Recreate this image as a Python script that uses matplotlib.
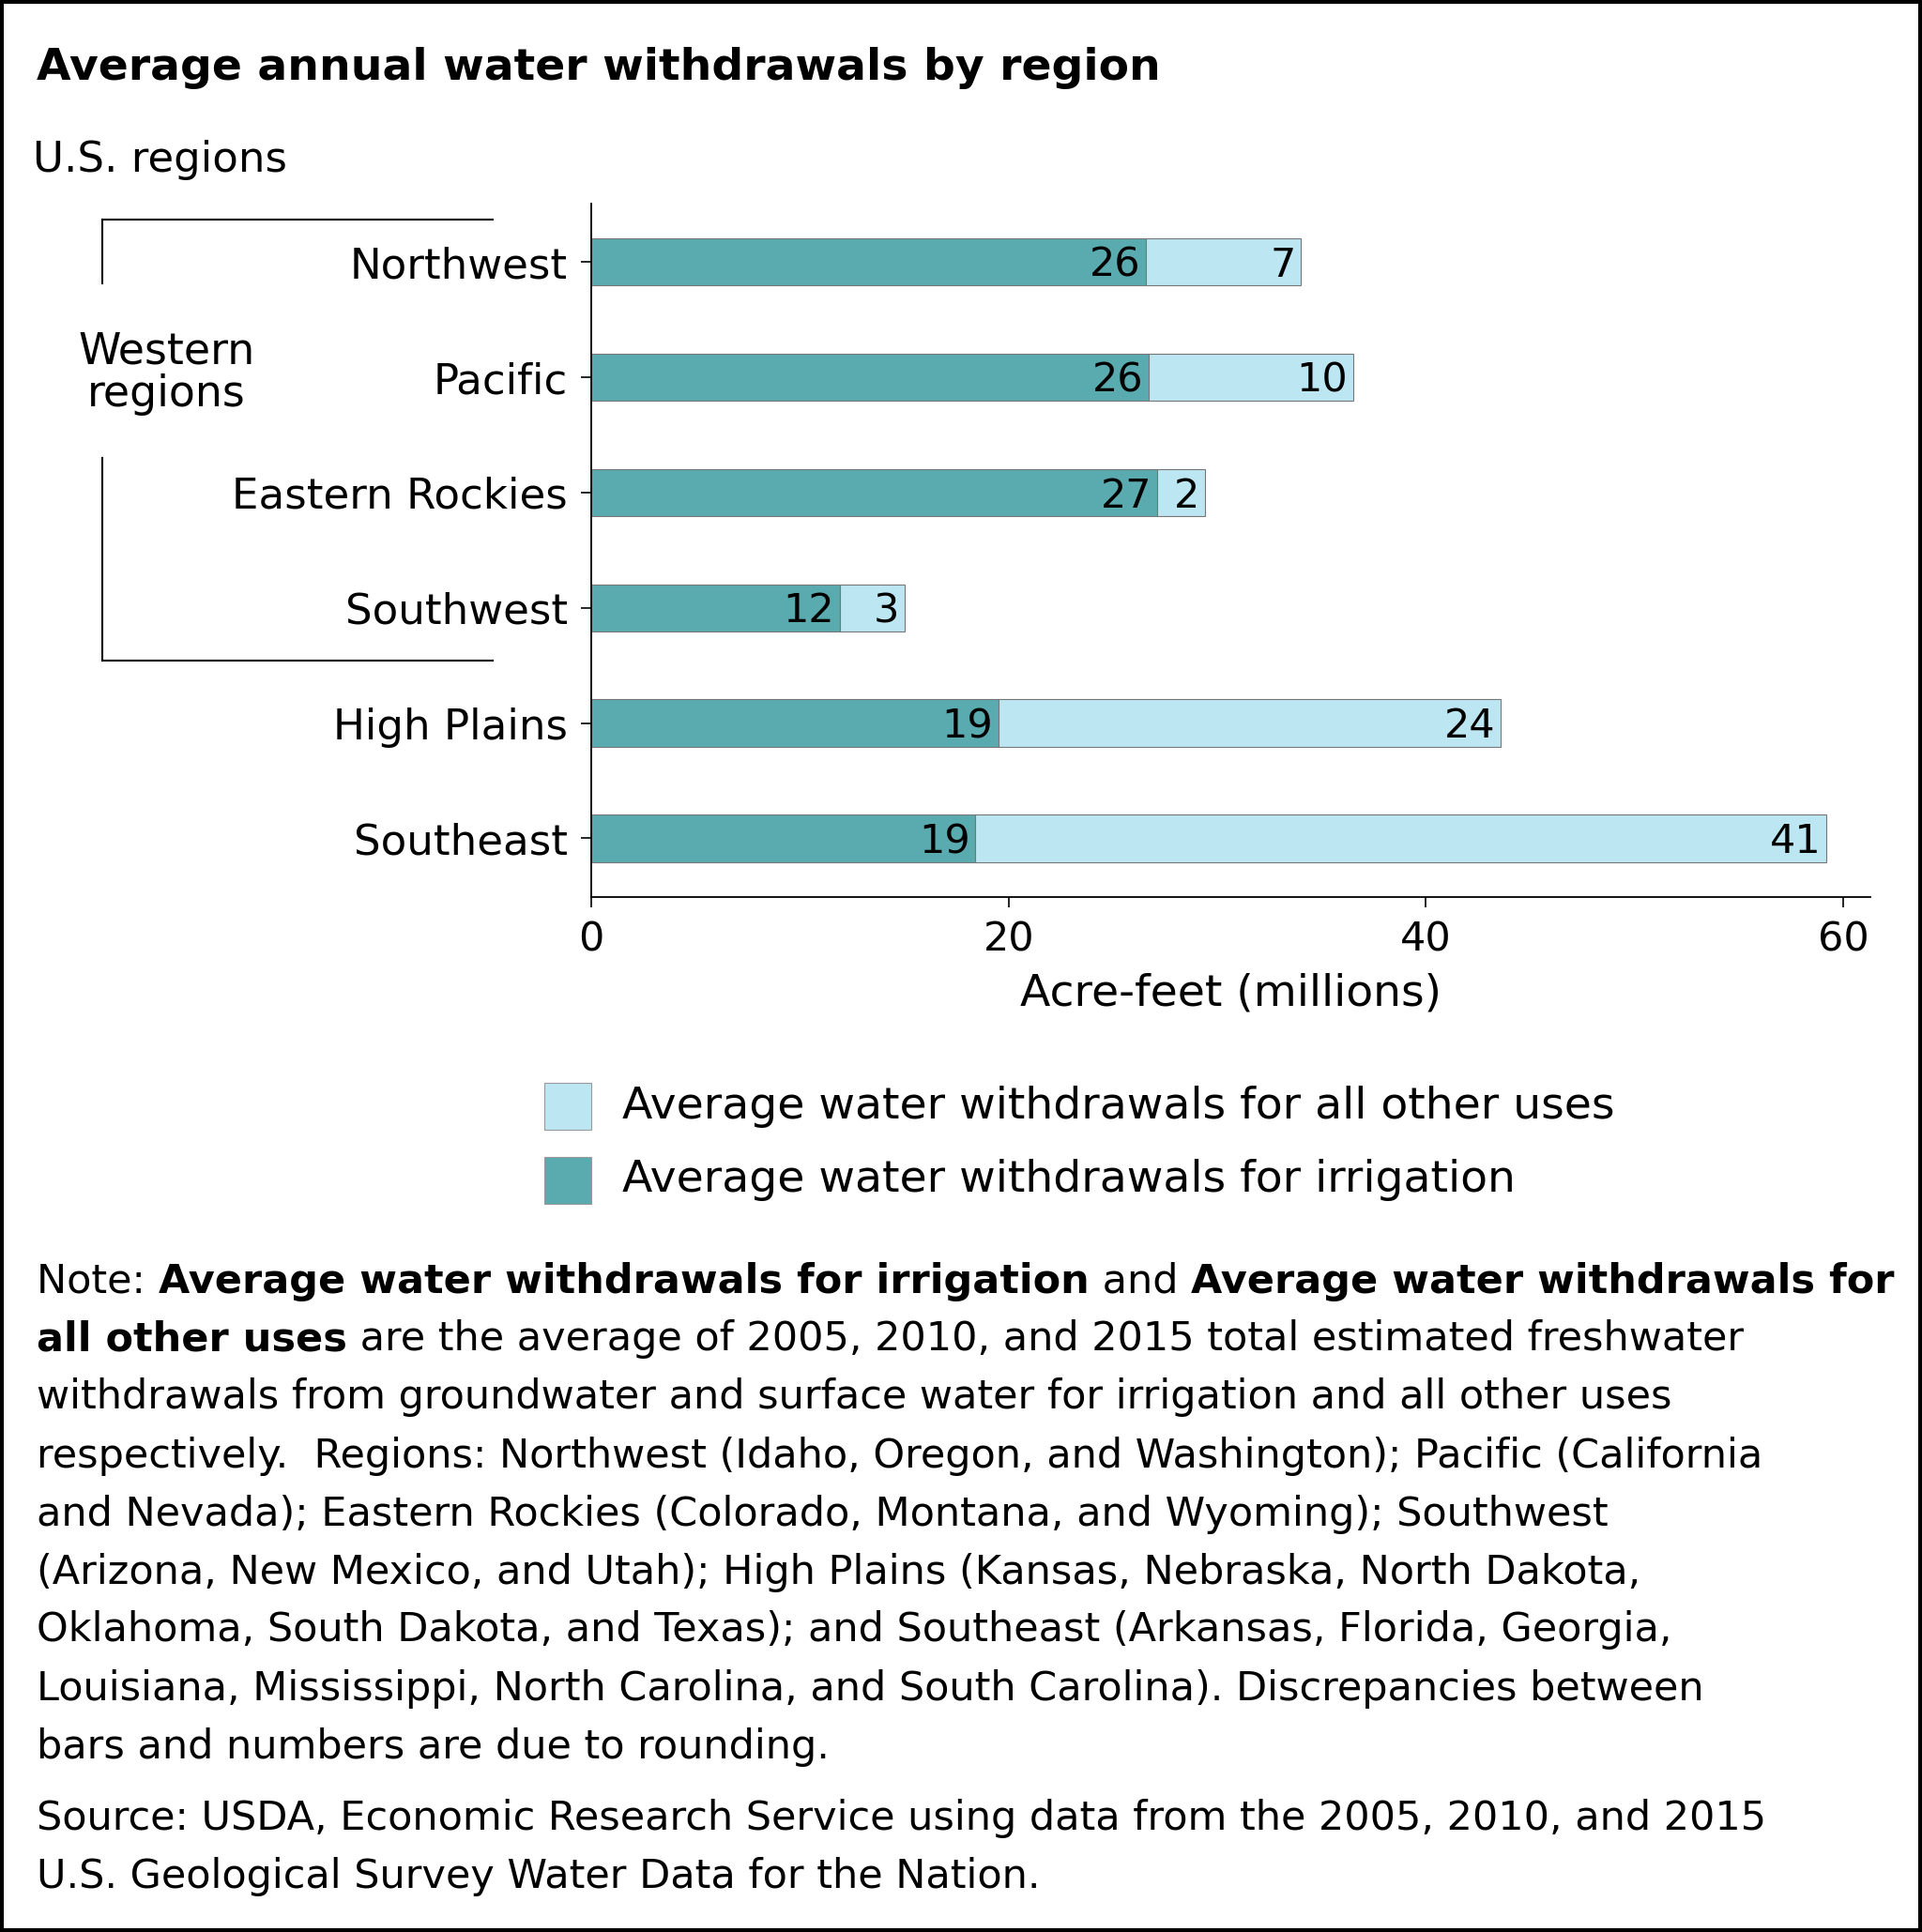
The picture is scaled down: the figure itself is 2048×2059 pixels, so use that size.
import matplotlib
matplotlib.use("Agg")
import matplotlib.pyplot as plt
from matplotlib.patches import Rectangle

regions = ["Northwest", "Pacific", "Eastern Rockies", "Southwest", "High Plains", "Southeast"]
irrigation = [26.6, 26.7, 27.1, 11.9, 19.5, 18.4]
other = [7.4, 9.8, 2.3, 3.1, 24.1, 40.8]
irr_labels = ["26", "26", "27", "12", "19", "19"]
oth_labels = ["7", "10", "2", "3", "24", "41"]
xticks = [0, 20, 40, 60]

DARK = "#5aabb0"
LIGHT = "#bde6f3"
plt.rcParams['font.family'] = ['DejaVu Sans']

W, H = 1560, 1568
fig = plt.figure(figsize=(20.48, 20.59), dpi=100)

def fx(x): return x / W
def fy(y): return 1 - y / H

ax = fig.add_axes([fx(480), fy(728), fx(1518) - fx(480), fy(165) - fy(728)])
ys = list(range(len(regions)))
ax.barh(ys, irrigation, height=0.41, color=DARK, edgecolor="#777777", linewidth=0.8)
ax.barh(ys, other, left=irrigation, height=0.41, color=LIGHT, edgecolor="#777777", linewidth=0.8)
for y, a, b, la, lb in zip(ys, irrigation, other, irr_labels, oth_labels):
    ax.text(a - 0.25, y + 0.03, la, ha="right", va="center", fontsize=31)
    ax.text(a + b - 0.25, y + 0.03, lb, ha="right", va="center", fontsize=31)
ax.set_xlim(0, 61.3)
ax.set_ylim(5.51, -0.51)
ax.set_yticks(ys)
ax.set_yticklabels(regions, fontsize=32.5)
ax.set_xticks(xticks)
ax.set_xticklabels([str(t) for t in xticks], fontsize=31)
ax.tick_params(axis="both", length=8, width=1.2, pad=10)
for s in ["top", "right"]:
    ax.spines[s].set_visible(False)
for s in ["left", "bottom"]:
    ax.spines[s].set_linewidth(1.3)
ax.set_xlabel("Acre-feet (millions)", fontsize=34, labelpad=10)

fig.text(fx(30), fy(55), "Average annual water withdrawals by region", fontsize=34,
         fontweight="bold", va="center")
fig.text(fx(27), fy(130), "U.S. regions", fontsize=32.5, va="center")

lw = 1.5
for (x0, y0, x1, y1) in [(83, 178, 400, 178), (83, 178, 83, 230), (83, 372, 83, 536), (83, 536, 400, 536)]:
    fig.add_artist(plt.Line2D([fx(x0), fx(x1)], [fy(y0), fy(y1)], color="black", lw=lw))
fig.text(fx(135), fy(303), "Western\nregions", fontsize=33, ha="center", va="center", linespacing=1.0)

for yy, col, lab in [(898, LIGHT, "Average water withdrawals for all other uses"),
                     (958, DARK, "Average water withdrawals for irrigation")]:
    fig.add_artist(Rectangle((fx(442), fy(yy + 19)), fx(38), fy(0) - fy(38), facecolor=col,
                             edgecolor="#999999", lw=0.8, transform=fig.transFigure))
    fig.text(fx(505), fy(yy), lab, fontsize=34, va="center")

note_lines = [
    [("Note: ", False), ("Average water withdrawals for irrigation", True), (" and ", False),
     ("Average water withdrawals for", True)],
    [("all other uses", True), (" are the average of 2005, 2010, and 2015 total estimated freshwater", False)],
    [("withdrawals from groundwater and surface water for irrigation and all other uses", False)],
    [("respectively.  Regions: Northwest (Idaho, Oregon, and Washington); Pacific (California", False)],
    [("and Nevada); Eastern Rockies (Colorado, Montana, and Wyoming); Southwest", False)],
    [("(Arizona, New Mexico, and Utah); High Plains (Kansas, Nebraska, North Dakota,", False)],
    [("Oklahoma, South Dakota, and Texas); and Southeast (Arkansas, Florida, Georgia,", False)],
    [("Louisiana, Mississippi, North Carolina, and South Carolina). Discrepancies between", False)],
    [("bars and numbers are due to rounding.", False)],
    [("Source: USDA, Economic Research Service using data from the 2005, 2010, and 2015", False)],
    [("U.S. Geological Survey Water Data for the Nation.", False)],
]
ypos = [1040, 1087, 1134, 1182, 1229, 1276, 1323, 1371, 1418, 1476, 1523]
renderer = fig.canvas.get_renderer()
for runs, yy in zip(note_lines, ypos):
    x = fx(30)
    for txt, bold in runs:
        t = fig.text(x, fy(yy), txt, fontsize=31, va="center",
                     fontweight="bold" if bold else "normal")
        bb = t.get_window_extent(renderer=renderer)
        x += bb.width / fig.bbox.width

fig.add_artist(Rectangle((0.001, 0.001), 0.998, 0.998, fill=False, edgecolor="black",
                         lw=3, transform=fig.transFigure))
fig.savefig("out.png", dpi=100)
